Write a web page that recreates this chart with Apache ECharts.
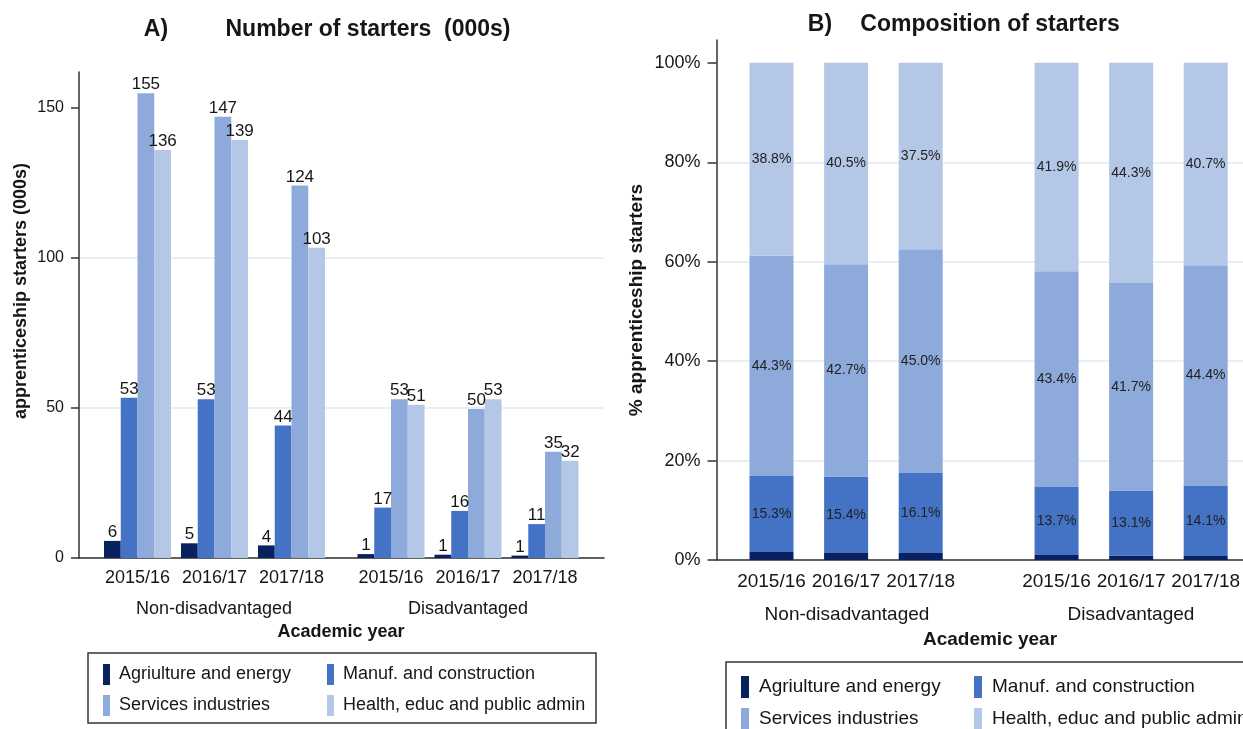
<!DOCTYPE html>
<html>
<head>
<meta charset="utf-8">
<script src="https://cdn.jsdelivr.net/npm/echarts@6.0.0/dist/echarts.min.js"></script>
<style>html,body{margin:0;padding:0;background:#fff}#c{width:1243px;height:729px}</style>
</head>
<body>
<div id="c"></div>
<script>
// ---------- data ----------
const years = ['2015/16', '2016/17', '2017/18'];
const groups = ['Non-disadvantaged', 'Disadvantaged'];
const sectors = ['Agriulture and energy', 'Manuf. and construction', 'Services industries', 'Health, educ and public admin'];

// Panel A: number of starters (000s)
const agriNonDis   = [5.7, 4.9, 4.2];
const manufNonDis  = [53.4, 52.9, 44.2];
const servNonDis   = [154.9, 147.1, 124.2];
const healthNonDis = [136.0, 139.3, 103.4];
const agriDis      = [1.3, 1.1, 0.8];
const manufDis     = [16.8, 15.7, 11.3];
const servDis      = [52.9, 49.7, 35.4];
const healthDis    = [51.1, 52.9, 32.4];

// Panel B: composition of starters (%)
const agriShareNonDis   = [1.6, 1.4, 1.4];
const manufShareNonDis  = [15.3, 15.4, 16.1];
const servShareNonDis   = [44.3, 42.7, 45.0];
const healthShareNonDis = [38.8, 40.5, 37.5];
const agriShareDis      = [1.0, 0.9, 0.8];
const manufShareDis     = [13.7, 13.1, 14.1];
const servShareDis      = [43.4, 41.7, 44.4];
const healthShareDis    = [41.9, 44.3, 40.7];

const countTicks = [0, 50, 100, 150];
const shareTicks = [0, 20, 40, 60, 80, 100];

// ---------- style ----------
const FONT = '"Liberation Sans", Arial, sans-serif';
const colors = ['#0a2160', '#4472c4', '#8eaadb', '#b4c7e7'];
const TXT = '#161616';
const AXIS = '#333333';
const GRIDC = '#eaf0f2';
const A_MAX = 162, B_MAX = 104.6;

const countsA = [
  [agriNonDis, manufNonDis, servNonDis, healthNonDis],
  [agriDis, manufDis, servDis, healthDis]
];
const sharesB = [
  [agriShareNonDis, manufShareNonDis, servShareNonDis, healthShareNonDis],
  [agriShareDis, manufShareDis, servShareDis, healthShareDis]
];

const grid = [
  {left: 79, top: 72, width: 525, height: 486},        // 0 frame A
  {left: 99, top: 72, width: 231, height: 486},        // 1 A non-dis
  {left: 352.5, top: 72, width: 231, height: 486},     // 2 A dis
  {left: 716.5, top: 40, width: 560, height: 520},     // 3 frame B
  {left: 734.2, top: 40, width: 223.8, height: 520},   // 4 B non-dis
  {left: 1019.3, top: 40, width: 223.8, height: 520}   // 5 B dis
];

function frameX(gi) {
  return {type: 'category', gridIndex: gi, data: [''],
    axisLine: {show: true, lineStyle: {color: AXIS, width: 1.5}},
    axisTick: {show: false}, axisLabel: {show: false}, splitLine: {show: false}};
}
function groupX(gi, fs, margin) {
  return {type: 'category', gridIndex: gi, data: years,
    axisLine: {show: false}, axisTick: {show: false},
    axisLabel: {show: true, interval: 0, hideOverlap: false, fontSize: fs, fontFamily: FONT, color: TXT, margin: margin}};
}
function hiddenY(gi, max) {
  return {type: 'value', gridIndex: gi, min: 0, max: max, show: false, splitLine: {show: false}};
}

const xAxis = [
  frameX(0), groupX(1, 18, 11), groupX(2, 18, 11),
  frameX(3), groupX(4, 19, 12), groupX(5, 19, 12)
];
const yAxis = [
  {type: 'value', gridIndex: 0, min: 0, max: A_MAX,
    axisLine: {show: true, lineStyle: {color: AXIS, width: 1.5}},
    axisTick: {show: true, length: 8, customValues: countTicks, lineStyle: {color: AXIS, width: 1.5}},
    axisLabel: {fontSize: 16, fontFamily: FONT, color: TXT, margin: 15, customValues: countTicks},
    splitLine: {show: true, showMaxLine: false, lineStyle: {color: GRIDC, width: 2}}},
  hiddenY(1, A_MAX), hiddenY(2, A_MAX),
  {type: 'value', gridIndex: 3, min: 0, max: B_MAX,
    axisLine: {show: true, lineStyle: {color: AXIS, width: 1.5}},
    axisTick: {show: true, length: 9, customValues: shareTicks, lineStyle: {color: AXIS, width: 1.5}},
    axisLabel: {fontSize: 18, fontFamily: FONT, color: TXT, margin: 16, customValues: shareTicks, formatter: '{value}%'},
    splitLine: {show: true, showMaxLine: false, lineStyle: {color: GRIDC, width: 2}}},
  hiddenY(4, B_MAX), hiddenY(5, B_MAX)
];

const series = [];
groups.forEach((g, gi) => {
  sectors.forEach((s, si) => {
    series.push({
      type: 'bar', name: s, xAxisIndex: 1 + gi, yAxisIndex: 1 + gi,
      data: countsA[gi][si], barWidth: 16.75, barGap: '0%',
      itemStyle: {color: colors[si]},
      label: {show: true, position: 'top', distance: 0, fontSize: 17, fontFamily: FONT, color: TXT,
        formatter: p => String(Math.round(p.value))}
    });
  });
});
groups.forEach((g, gi) => {
  sectors.forEach((s, si) => {
    series.push({
      type: 'bar', name: s, xAxisIndex: 4 + gi, yAxisIndex: 4 + gi, stack: 'b' + gi,
      data: sharesB[gi][si], barWidth: 44,
      itemStyle: {color: colors[si]},
      label: {show: si > 0, position: 'inside', fontSize: 14, fontFamily: FONT, color: '#222',
        formatter: p => p.value.toFixed(1) + '%'}
    });
  });
});

function legend(left, top, items, fs, iw, ih, gap, pad) {
  return {orient: 'vertical', left: left, top: top, width: 300, height: 120, data: items, icon: 'rect',
    itemWidth: iw, itemHeight: ih, itemGap: gap, selectedMode: false,
    textStyle: {fontSize: fs, fontFamily: FONT, color: TXT, padding: [0, 0, 0, pad]}};
}
const legends = [
  legend(98, 659, [sectors[0], sectors[2]], 18, 7, 21, 10, 4),
  legend(322, 659, [sectors[1], sectors[3]], 18, 7, 21, 10, 4),
  legend(736, 671, [sectors[0], sectors[2]], 19, 8, 22, 10, 5),
  legend(969, 671, [sectors[1], sectors[3]], 19, 8, 22, 10, 5)
];

function txt(x, y, text, fs, bold, rot) {
  return {type: 'text', x: x, y: y, rotation: rot || 0, silent: true,
    style: {x: 0, y: 0, text: text, fontSize: fs, fontWeight: bold ? 'bold' : 'normal', fontFamily: FONT,
      fill: TXT, align: 'center', verticalAlign: 'middle'}};
}
const graphic = [
  txt(156, 30, 'A)', 23, true),
  txt(368, 30, 'Number of starters  (000s)', 23, true),
  txt(820, 25, 'B)', 23, true),
  txt(990, 25, 'Composition of starters', 23, true),
  txt(21, 291, 'apprenticeship starters (000s)', 18, true, Math.PI / 2),
  txt(637, 300, '% apprenticeship starters', 19, true, Math.PI / 2),
  txt(214, 609, groups[0], 18, false),
  txt(468, 609, groups[1], 18, false),
  txt(341, 632, 'Academic year', 18, true),
  txt(847, 615, groups[0], 19, false),
  txt(1131, 615, groups[1], 19, false),
  txt(990, 640, 'Academic year', 19, true),
  {type: 'rect', shape: {x: 88, y: 653, width: 508, height: 70}, silent: true,
    style: {fill: 'none', stroke: AXIS, lineWidth: 1.5}},
  {type: 'rect', shape: {x: 726, y: 662, width: 600, height: 90}, silent: true,
    style: {fill: 'none', stroke: AXIS, lineWidth: 1.5}}
];

const chart = echarts.init(document.getElementById('c'), null, {renderer: 'canvas'});
chart.setOption({
  animation: false,
  backgroundColor: '#fff',
  grid: grid, xAxis: xAxis, yAxis: yAxis, series: series,
  legend: legends, graphic: graphic
});
</script>
</body>
</html>
